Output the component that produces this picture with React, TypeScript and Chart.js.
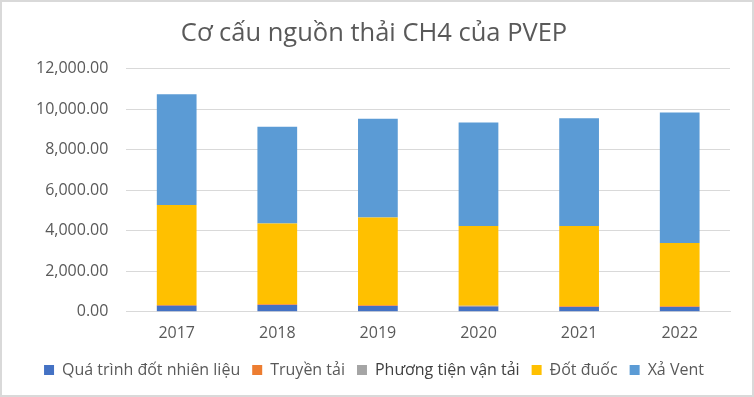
import React, { useEffect, useRef } from "react";
import { Chart, registerables } from "chart.js";

Chart.register(...registerables);

const years = ["2017", "2018", "2019", "2020", "2021", "2022"];
const quaTrinhDot = [300, 330, 290, 260, 240, 240];
const truyenTai = [30, 40, 30, 30, 30, 30];
const phuongTien = [5, 5, 5, 5, 5, 5];
const dotDuoc = [4935, 3980, 4330, 3935, 3955, 3125];
const xaVent = [5460, 4775, 4870, 5110, 5325, 6435];
const seriesNames = ["Quá trình đốt nhiên liệu", "Truyền tải", "Phương tiện vận tải", "Đốt đuốc", "Xả Vent"];
const seriesColors = ["#4472C4", "#ED7D31", "#A5A5A5", "#FFC000", "#5B9BD5"];
const titleText = "Cơ cấu nguồn thải CH4 của PVEP";

const FONT = "'Open Sans', 'Noto Sans', sans-serif";

export default function App() {
  const ref = useRef<HTMLCanvasElement | null>(null);
  useEffect(() => {
    document.body.style.margin = "0";
    const values = [quaTrinhDot, truyenTai, phuongTien, dotDuoc, xaVent];
    const chart = new Chart(ref.current!, {
      type: "bar",
      data: {
        labels: years,
        datasets: values.map((v, i) => ({
          label: seriesNames[i],
          data: v,
          backgroundColor: seriesColors[i],
          borderWidth: 0,
          barPercentage: 0.79,
          categoryPercentage: 0.5,
        })),
      },
      options: {
        responsive: false,
        animation: false,
        layout: { padding: { left: 16, right: 22, top: 0, bottom: 7 } },
        plugins: {
          title: {
            display: true,
            text: titleText,
            color: "#595959",
            font: { family: FONT, size: 25.5, weight: "normal" },
            padding: { top: 16, bottom: 20 },
          },
          legend: {
            position: "bottom",
            labels: {
              color: "#595959",
              font: { family: FONT, size: 16 },
              boxWidth: 10,
              boxHeight: 10,
              padding: 12,
              generateLabels: (c: any) => {
                const items = Chart.defaults.plugins.legend.labels.generateLabels(c);
                items.forEach((it: any, i: number) => {
                  it.fontColor = i === 2 ? "#404040" : "#595959";
                });
                return items;
              },
            },
          },
          tooltip: { enabled: false },
        },
        scales: {
          x: {
            stacked: true,
            grid: { display: false, drawTicks: false },
            border: { color: "#D9D9D9" },
            ticks: {
              color: "#595959",
              font: { family: FONT, size: 16 },
              padding: 12,
            },
            afterFit: (s: any) => {
              s.height -= 5;
            },
          },
          y: {
            stacked: true,
            min: 0,
            max: 12000,
            grid: { color: "#D9D9D9", drawTicks: false, lineWidth: 1 },
            border: { display: false },
            ticks: {
              stepSize: 2000,
              color: "#595959",
              font: { family: FONT, size: 16 },
              padding: 18,
              callback: (v: any) =>
                Number(v).toLocaleString("en-US", { minimumFractionDigits: 2, maximumFractionDigits: 2 }),
            },
          },
        },
      },
    });
    return () => chart.destroy();
  }, []);
  return (
    <div style={{ width: 754, height: 397, boxSizing: "border-box", border: "2px solid #D9D9D9", background: "#fff" }}>
      <canvas ref={ref} width={750} height={393} />
    </div>
  );
}
